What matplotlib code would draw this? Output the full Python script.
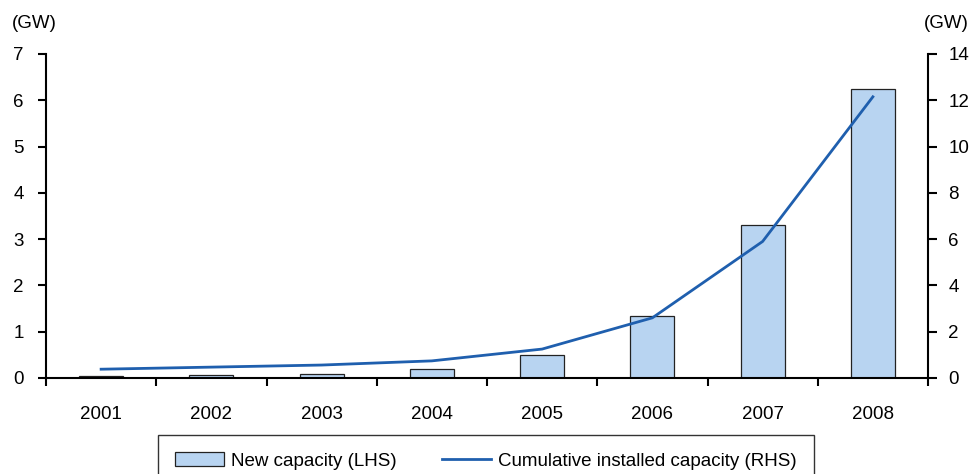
import numpy as np
import matplotlib.pyplot as plt

plt.rcParams['font.family'] = ['Liberation Sans', 'DejaVu Sans']

years = ['2001', '2002', '2003', '2004', '2005', '2006', '2007', '2008']
new_capacity = [0.04, 0.06, 0.09, 0.19, 0.50, 1.34, 3.30, 6.24]
cumulative = [0.38, 0.47, 0.56, 0.74, 1.25, 2.60, 5.90, 12.15]

fig = plt.figure(figsize=(9.71, 4.74), dpi=100)
ax = fig.add_axes([46/971, 96/474, 882/971, 324/474])
ax2 = ax.twinx()

x = np.arange(len(years))
bars = ax.bar(x, new_capacity, width=0.4, color='#B8D4F1', edgecolor='#222222',
              linewidth=0.9, label='New capacity (LHS)', zorder=2)
line, = ax2.plot(x, cumulative, color='#1F5FAE', linewidth=2,
                 label='Cumulative installed capacity (RHS)')

ax.set_xlim(-0.5, 7.5)
ax.set_ylim(0, 7)
ax2.set_ylim(0, 14)
ax.set_yticks(range(0, 8))
ax2.set_yticks(range(0, 15, 2))

# ticks sit between categories, labels centred under the bars
ax.set_xticks(np.arange(-0.5, 8, 1))
ax.set_xticklabels([])
ax.set_xticks(x, minor=True)
ax.set_xticklabels(years, minor=True)
ax.tick_params(axis='x', which='minor', length=0, pad=20, labelsize=13.5)
ax.tick_params(axis='x', which='major', direction='out', length=6, width=1.5)
ax.tick_params(axis='y', direction='out', length=6, width=1.5, labelsize=13.5, pad=10)
ax2.tick_params(axis='y', direction='out', length=6.5, width=1.5, labelsize=13.5, pad=8)

for a in (ax, ax2):
    a.spines['top'].set_visible(False)
    for s in ('left', 'right', 'bottom'):
        a.spines[s].set_linewidth(1.5)
ax.spines['right'].set_visible(False)
ax2.spines['left'].set_visible(False)
ax2.spines['bottom'].set_visible(False)

fig.text(12/971, 1 - 24/474, '(GW)', fontsize=13.5, va='center', ha='left')
fig.text(969/971, 1 - 24/474, '(GW)', fontsize=13.5, va='center', ha='right')

leg = fig.legend(handles=[bars, line], loc='upper left',
                 bbox_to_anchor=(158/971, 1 - 435/474), borderaxespad=0,
                 ncol=2, frameon=True, fancybox=False, edgecolor='black',
                 fontsize=13.5, handlelength=2.6, handleheight=0.8,
                 handletextpad=0.4, columnspacing=2.4, borderpad=0.9)
leg.get_frame().set_linewidth(1)

fig.savefig('out.png', dpi=100)
